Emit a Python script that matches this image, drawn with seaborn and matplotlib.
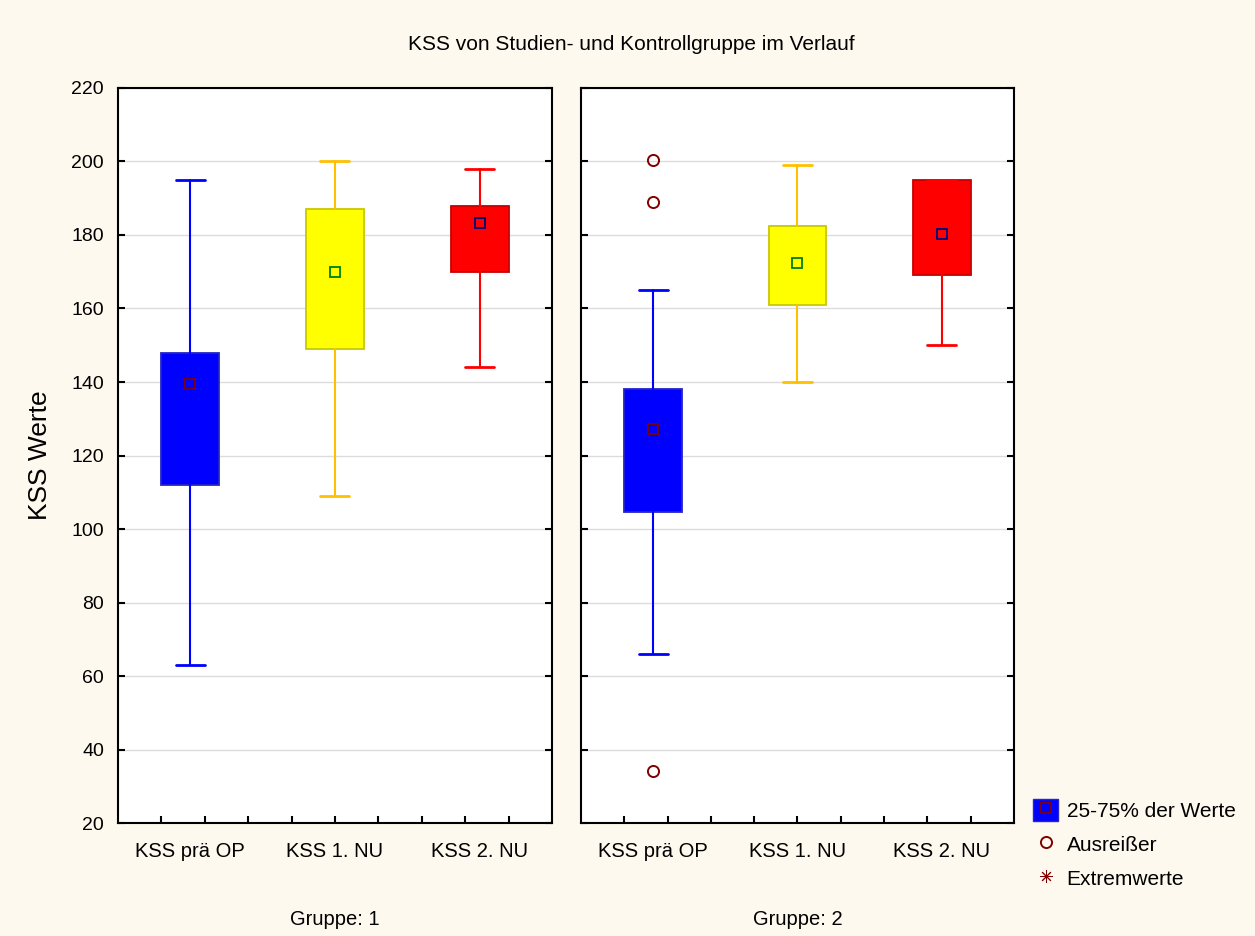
import matplotlib
matplotlib.use('Agg')
import matplotlib.pyplot as plt
import seaborn as sns
from matplotlib.lines import Line2D
from matplotlib.patches import Patch

categories = ['KSS prä OP', 'KSS 1. NU', 'KSS 2. NU']
group_labels = ['Gruppe: 1', 'Gruppe: 2']

# Gruppe 1 (Studiengruppe)
g1_whislo = [63, 109, 144]
g1_q1 = [112, 149, 170]
g1_med = [139.5, 170, 183.3]
g1_q3 = [148, 187, 188]
g1_whishi = [195, 200, 198]
g1_outliers = [[], [], []]

# Gruppe 2 (Kontrollgruppe)
g2_whislo = [66, 140, 150]
g2_q1 = [104.5, 161, 169]
g2_med = [127.3, 172.5, 180.2]
g2_q3 = [138, 182.5, 195]
g2_whishi = [165, 199, 195]
g2_outliers = [[200.5, 189, 34.2], [], []]

box_fill = ['#0000FF', '#FFFF00', '#FF0000']
box_edge = ['#2424C8', '#C8C800', '#C80000']
whisker_col = ['#0000FF', '#FFC000', '#FF0000']
median_edge = ['#800000', '#008000', '#000080']
bg = '#FEF9EE'

sns.set_theme(style='white')
plt.rcParams['font.family'] = ['Liberation Sans', 'DejaVu Sans']
plt.rcParams['text.color'] = 'black'
plt.rcParams['axes.labelcolor'] = 'black'

fig = plt.figure(figsize=(12.55, 9.36), dpi=100, facecolor=bg)
ax1 = fig.add_axes([0.0940, 0.1207, 0.3458, 0.7853])
ax2 = fig.add_axes([0.4629, 0.1207, 0.3450, 0.7853])

groups = [
    (ax1, g1_whislo, g1_q1, g1_med, g1_q3, g1_whishi, g1_outliers, group_labels[0]),
    (ax2, g2_whislo, g2_q1, g2_med, g2_q3, g2_whishi, g2_outliers, group_labels[1]),
]

for ax, lo, q1, med, q3, hi, outl, glabel in groups:
    ax.set_facecolor('white')
    for i in range(len(categories)):
        stats = dict(whislo=lo[i], q1=q1[i], med=med[i], mean=med[i],
                     q3=q3[i], whishi=hi[i], fliers=outl[i])
        ax.bxp([stats], positions=[i], widths=0.4, capwidths=0.2,
               patch_artist=True, showmeans=True, showfliers=True,
               manage_ticks=False,
               boxprops=dict(facecolor=box_fill[i], edgecolor=box_edge[i], linewidth=1.3),
               whiskerprops=dict(color=whisker_col[i], linewidth=1.5),
               capprops=dict(color=whisker_col[i], linewidth=2),
               medianprops=dict(linestyle='none'),
               meanprops=dict(marker='s', markerfacecolor='none',
                              markeredgecolor=median_edge[i], markersize=7,
                              markeredgewidth=1.3),
               flierprops=dict(marker='o', markerfacecolor='none',
                               markeredgecolor='#800000', markersize=8,
                               markeredgewidth=1.4))

    ax.set_xlim(-0.5, 2.5)
    ax.set_ylim(20, 220)
    ax.set_yticks(range(20, 221, 20))
    ax.set_axisbelow(True)
    ax.yaxis.grid(True, color='#DCDCDC', linewidth=1)
    ax.xaxis.grid(False)

    ax.set_xticks(range(len(categories)))
    ax.set_xticklabels(categories)
    ax.set_xticks([-0.5 + 0.3 * k for k in range(1, 10)], minor=True)
    ax.xaxis.remove_overlapping_locs = False
    ax.tick_params(axis='x', which='major', length=0, pad=14, labelsize=14.5,
                   colors='black')
    ax.tick_params(axis='x', which='minor', direction='in', length=5, width=1.5,
                   bottom=True, top=False, color='black')
    ax.tick_params(axis='y', which='major', direction='in', length=5, width=1.5,
                   left=True, right=True, pad=10, labelsize=14, colors='black')
    ax.set_xlabel(glabel, fontsize=14.5, labelpad=35, color='black')

    for sp in ax.spines.values():
        sp.set_color('black')
        sp.set_linewidth(1.5)

ax2.tick_params(axis='y', labelleft=False)
ax1.set_ylabel('KSS Werte', fontsize=19, labelpad=14, color='black')

fig.text(0.503, 0.952, 'KSS von Studien- und Kontrollgruppe im Verlauf',
         ha='center', va='center', fontsize=15, color='black')

handles = [
    (Patch(facecolor='#0000FF', edgecolor='#2424C8'),
     Line2D([], [], marker='s', linestyle='none', markerfacecolor='none',
            markeredgecolor='#800000', markersize=7, markeredgewidth=1.3)),
    Line2D([], [], marker='o', linestyle='none', markerfacecolor='none',
           markeredgecolor='#800000', markersize=8, markeredgewidth=1.4),
    Line2D([], [], marker=(8, 2, 0), linestyle='none', color='#800000',
           markersize=9, markeredgewidth=0.7),
]
labels = ['25-75% der Werte', 'Ausreißer', 'Extremwerte']
fig.legend(handles, labels, loc='upper left', bbox_to_anchor=(0.815, 0.158),
           frameon=False, fontsize=15, handlelength=1.2, handleheight=1.3,
           handletextpad=0.4, labelspacing=0.55, borderpad=0)

fig.savefig('out.png', dpi=100, facecolor=bg)
